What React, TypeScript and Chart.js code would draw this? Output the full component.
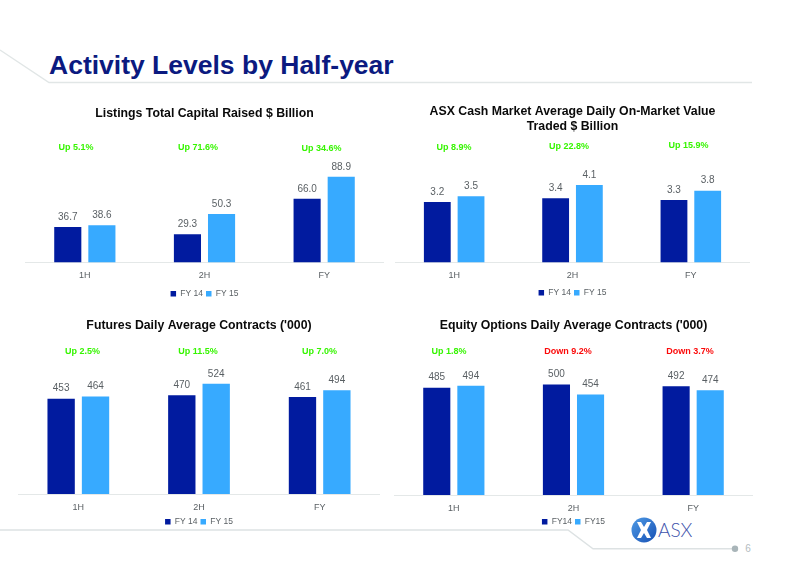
import { useEffect, useRef } from 'react';
import { Chart, registerables } from 'chart.js';

Chart.register(...registerables);

const FONT = '"Liberation Sans", Arial, sans-serif';
const NAVY = '#011b9f';
const SKY = '#37aaff';
const GREEN = '#36f500';
const RED = '#fb0a0a';
const GREY = '#595f63';

const periods = ['1H', '2H', 'FY'];

const listingsFY14 = [36.7, 29.3, 66.0];
const listingsFY15 = [38.6, 50.3, 88.9];
const listingsChange = ['Up 5.1%', 'Up 71.6%', 'Up 34.6%'];

const cashFY14 = [3.2, 3.4, 3.3];
const cashFY15 = [3.5, 4.1, 3.8];
const cashChange = ['Up 8.9%', 'Up 22.8%', 'Up 15.9%'];

const futuresFY14 = [453, 470, 461];
const futuresFY15 = [464, 524, 494];
const futuresChange = ['Up 2.5%', 'Up 11.5%', 'Up 7.0%'];

const optionsFY14 = [485, 500, 492];
const optionsFY15 = [494, 454, 474];
const optionsChange = ['Up 1.8%', 'Down 9.2%', 'Down 3.7%'];

const valueLabels: any = {
  id: 'valueLabels',
  afterDatasetsDraw(chart: any) {
    const ctx = chart.ctx;
    const digits = chart.options.plugins.valueLabels.digits;
    ctx.save();
    ctx.font = `10px ${FONT}`;
    ctx.fillStyle = GREY;
    ctx.textAlign = 'center';
    ctx.textBaseline = 'middle';
    chart.data.datasets.forEach((ds: any, i: number) => {
      chart.getDatasetMeta(i).data.forEach((bar: any, j: number) => {
        ctx.fillText(ds.data[j].toFixed(digits), bar.x, bar.y - 10);
      });
    });
    ctx.restore();
  },
};

interface PanelProps {
  title: string | string[];
  fy14: number[];
  fy15: number[];
  names: string[];
  digits: number;
  yMax: number;
  left: number;
  top: number;
  width: number;
  height: number;
  titleGap: number;
  axisHeight: number;
}

function Panel({ title, fy14, fy15, names, digits, yMax, left, top, width, height, titleGap, axisHeight }: PanelProps) {
  const canvasRef = useRef<HTMLCanvasElement>(null);

  useEffect(() => {
    if (!canvasRef.current) return;
    const chart = new Chart(canvasRef.current, {
      type: 'bar',
      data: {
        labels: periods,
        datasets: [
          { label: names[0], data: fy14, backgroundColor: NAVY, categoryPercentage: 0.57, barPercentage: 0.795 },
          { label: names[1], data: fy15, backgroundColor: SKY, categoryPercentage: 0.57, barPercentage: 0.795 },
        ],
      },
      options: {
        responsive: false,
        animation: false,
        layout: { padding: 0 },
        scales: {
          x: {
            grid: { display: false, drawTicks: false },
            border: { color: '#e4e8e8' },
            ticks: { color: GREY, font: { family: FONT, size: 9 }, padding: 8 },
            afterFit: (scale: any) => { scale.height = axisHeight; },
          },
          y: { display: false, min: 0, max: yMax },
        },
        plugins: {
          title: {
            display: true,
            text: title,
            color: '#0a0a0a',
            font: { family: FONT, size: 12.3, weight: 'bold', lineHeight: 1.15 },
            padding: { top: 2, bottom: titleGap },
          },
          legend: {
            position: 'bottom',
            labels: { color: GREY, font: { family: FONT, size: 8.5 }, boxWidth: 5.5, boxHeight: 5.5, padding: 3 },
          },
          tooltip: { enabled: false },
          valueLabels: { digits },
        } as any,
      },
      plugins: [valueLabels],
    });
    return () => chart.destroy();
  }, []);

  return <canvas ref={canvasRef} width={width} height={height} style={{ position: 'absolute', left, top, width, height }} />;
}

function Change({ text, x, y }: { text: string; x: number; y: number }) {
  return (
    <div
      style={{
        position: 'absolute',
        left: x,
        top: y,
        transform: 'translate(-50%, -50%)',
        whiteSpace: 'nowrap',
        font: `bold 9px ${FONT}`,
        color: text.startsWith('Down') ? RED : GREEN,
      }}
    >
      {text}
    </div>
  );
}

function Frame() {
  return (
    <svg width={800} height={565} style={{ position: 'absolute', left: 0, top: 0 }}>
      <defs>
        <linearGradient id="logo" x1="0" y1="0" x2="1" y2="1">
          <stop offset="0" stopColor="#4f9be6" />
          <stop offset="1" stopColor="#1750b4" />
        </linearGradient>
      </defs>
      <polyline points="0,50 49,82.5 752,82.5" fill="none" stroke="#e1e6e6" strokeWidth={1.4} />
      <polyline points="0,530 568,530 593,548.7 733,548.7" fill="none" stroke="#dde2e3" strokeWidth={1.4} />
      <circle cx={735} cy={548.7} r={3.2} fill="#a9b5b9" />
      <text x={748} y={552} textAnchor="middle" fontFamily={FONT} fontSize={10} fill="#b4bcbf">6</text>
      <circle cx={644} cy={530} r={12.5} fill="url(#logo)" />
      <path d="M637,522 L641,522 L644,527 L647,522 L651,522 L647,530 L651,538 L647,538 L644,533 L641,538 L637,538 L641,530 Z" fill="#fff" />
      <text x={658} y={537} fontFamily="Lato, sans-serif" fontSize={19} fontWeight={300} fill="#3d52ab">ASX</text>
    </svg>
  );
}

export default function App() {
  return (
    <div style={{ position: 'fixed', left: 0, top: 0, width: 800, height: 565, overflow: 'hidden', background: '#fff' }}>
      <Frame />
      <div style={{ position: 'absolute', left: 49, top: 50, font: `bold 26.5px ${FONT}`, color: '#0b1a80', whiteSpace: 'nowrap' }}>
        Activity Levels by Half-year
      </div>

      <Panel title="Listings Total Capital Raised $ Billion" fy14={listingsFY14} fy15={listingsFY15} names={['FY 14', 'FY 15']} digits={1}
        yMax={116.5} left={25} top={105} width={359} height={203} titleGap={29} axisHeight={24} />
      <Panel title={['ASX Cash Market Average Daily On-Market Value', 'Traded $ Billion']} fy14={cashFY14} fy15={cashFY15} names={['FY 14', 'FY 15']} digits={1}
        yMax={5.95} left={395} top={103} width={355} height={204} titleGap={16.7} axisHeight={23} />
      <Panel title="Futures Daily Average Contracts ('000)" fy14={futuresFY14} fy15={futuresFY15} names={['FY 14', 'FY 15']} digits={0}
        yMax={636.6} left={18} top={317} width={362} height={219} titleGap={27} axisHeight={20.5} />
      <Panel title="Equity Options Daily Average Contracts ('000)" fy14={optionsFY14} fy15={optionsFY15} names={['FY14', 'FY15']} digits={0}
        yMax={609.8} left={394} top={317} width={359} height={219} titleGap={27} axisHeight={19.5} />

      <Change text={listingsChange[0]} x={76} y={146.5} />
      <Change text={listingsChange[1]} x={198} y={146.5} />
      <Change text={listingsChange[2]} x={321.5} y={148} />
      <Change text={cashChange[0]} x={454} y={146.5} />
      <Change text={cashChange[1]} x={569} y={146} />
      <Change text={cashChange[2]} x={688.5} y={145} />
      <Change text={futuresChange[0]} x={82.5} y={351} />
      <Change text={futuresChange[1]} x={198} y={351} />
      <Change text={futuresChange[2]} x={319.5} y={351} />
      <Change text={optionsChange[0]} x={449} y={351} />
      <Change text={optionsChange[1]} x={568} y={351} />
      <Change text={optionsChange[2]} x={690} y={351} />
    </div>
  );
}
